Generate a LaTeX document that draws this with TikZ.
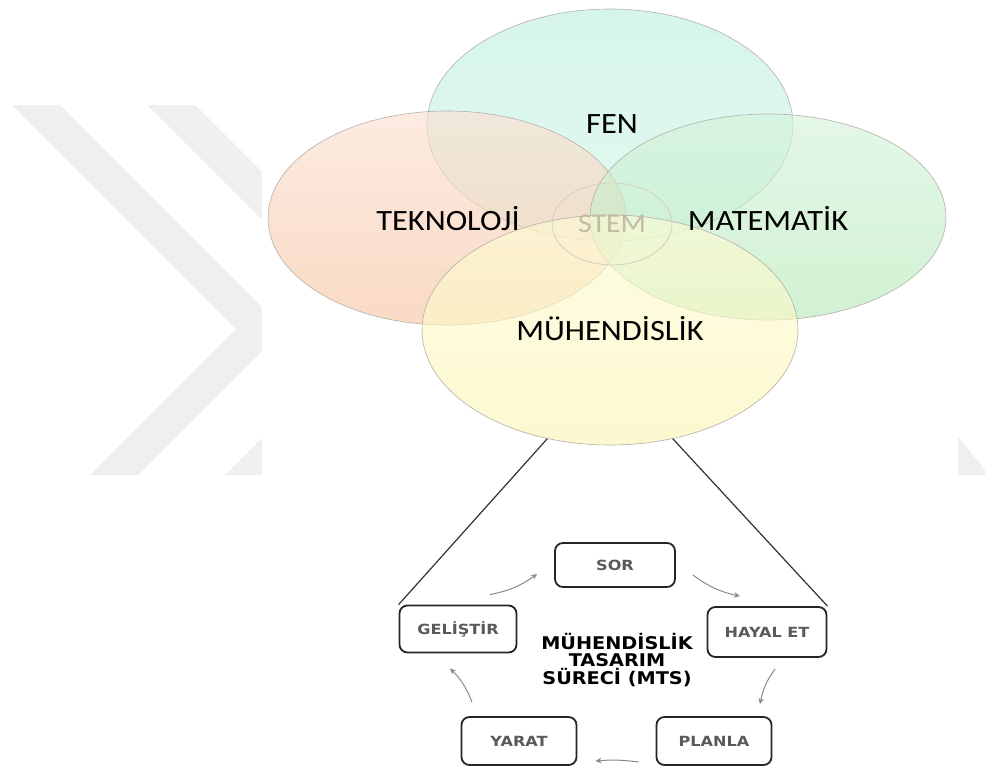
\documentclass[tikz,border=0pt]{standalone}
\usepackage{fontspec}
\setmainfont{Carlito}
\newfontfamily\labfont[FakeStretch=1.1]{Carlito}
\newfontfamily\boxfont[FakeStretch=1.15]{DejaVu Sans}
\newfontfamily\mtsfont[FakeStretch=1.1]{DejaVu Sans}
\usetikzlibrary{arrows.meta,shapes.geometric}
\definecolor{wm}{HTML}{EFEFEF}
\definecolor{edge}{HTML}{B4B0AA}
\definecolor{fenT}{HTML}{BEF0DE}
\definecolor{fenB}{HTML}{D4F6EA}
\definecolor{tekT}{HTML}{FCE0D0}
\definecolor{tekB}{HTML}{F7C4A2}
\definecolor{matT}{HTML}{D4F3DC}
\definecolor{matB}{HTML}{B6EAB6}
\definecolor{muhT}{HTML}{FDFCD4}
\definecolor{muhB}{HTML}{FBF6B4}
\definecolor{boxtext}{HTML}{5A5A5A}
\definecolor{arrowgrey}{HTML}{8A8A8A}
\definecolor{stemgrey}{HTML}{C4BAA8}
\tikzset{
  venn/.style={ellipse, draw=edge, line width=0.6pt, fill opacity=0.62, draw opacity=1, inner sep=0pt},
  vlabel/.style={font=\labfont\fontsize{29.5}{31}\selectfont, text=black},
  mtsbox/.style={draw=black!85, line width=1.8pt, rounded corners=8pt, minimum width=117pt, minimum height=47pt, font=\boxfont\bfseries\fontsize{14}{15}\selectfont, text=boxtext},
  cyc/.style={draw=arrowgrey, line width=1pt, -{Stealth[length=6pt,width=5.5pt]}},
  link/.style={draw=black!80, line width=1.2pt}
}
\begin{document}
\begin{tikzpicture}[x=1pt,y=-1pt]
\useasboundingbox (0,0) rectangle (985,771);
\fill[white] (0,0) rectangle (985,771);
% watermark
\fill[wm] (12,105)--(60,105)--(284,329)--(138,475)--(90,475)--(236,329)--cycle;
\fill[wm] (147,105)--(195,105)--(419,329)--(273,475)--(225,475)--(371,329)--cycle;
\fill[white] (262,0) rectangle (958,480);
\fill[wm] (958,437)--(985,470)--(985,475)--(958,475)--cycle;
% venn
\node[venn, minimum width=366pt, minimum height=232pt, top color=fenT, bottom color=fenB] (fen) at (610,125) {};
\node[venn, minimum width=358pt, minimum height=214pt, top color=tekT, bottom color=tekB] (tek) at (447,218) {};
\node[venn, minimum width=356pt, minimum height=206pt, top color=matT, bottom color=matB] (mat) at (768,217) {};
\node[venn, minimum width=376pt, minimum height=230pt, top color=muhT, bottom color=muhB] (muh) at (610,330) {};
\node[ellipse, draw=stemgrey!70, line width=0.8pt, minimum width=120pt, minimum height=82pt] (stem) at (612,224) {};
\node[font=\labfont\fontsize{27}{28}\selectfont, text=stemgrey] (stemt) at (stem.center) {STEM};
\node[vlabel] (fent) at (612,124) {FEN};
\node[vlabel] (tekt) at (448,219) {TEKNOLOJİ};
\node[vlabel] (matt) at (768,218) {MATEMATİK};
\node[vlabel] (muht) at (610,329) {MÜHENDİSLİK};
% boxes
\node[mtsbox, minimum width=120pt, minimum height=44pt] (sor) at (615,565) {SOR};
\node[mtsbox, minimum width=119pt, minimum height=50pt] (hay) at (767,632) {HAYAL ET};
\node[mtsbox] (gel) at (458,629) {GELİŞTİR};
\node[mtsbox, minimum width=115pt, minimum height=48pt] (yar) at (519,741) {YARAT};
\node[mtsbox, minimum width=115pt, minimum height=48pt] (pla) at (714,741) {PLANLA};
\node[font=\mtsfont\bfseries\fontsize{17.5}{17.5}\selectfont, align=center] (mts) at (617,660) {MÜHENDİSLİK\\TASARIM\\SÜRECİ (MTS)};
% links
\draw[link] (muh.240.9) -- (gel.north west);
\draw[link] (muh.300.2) -- (hay.north east);
% cycle arrows
\draw[cyc] ([shift={(32,-10)}]gel.north) to[bend right=12] ([shift={(-17,9)}]sor.west);
\draw[cyc] ([shift={(17,10)}]sor.east) to[bend right=12] ([shift={(-27,-10)}]hay.north);
\draw[cyc] ([shift={(8,11)}]hay.south) to[bend right=12] ([shift={(46,-12)}]pla.north);
\draw[cyc] ([shift={(-17,21)}]pla.west) to[bend right=6] ([shift={(18,20)}]yar.east);
\draw[cyc] ([shift={(-47,-14)}]yar.north) to[bend right=12] ([shift={(-8,15)}]gel.south);
\end{tikzpicture}
\end{document}
